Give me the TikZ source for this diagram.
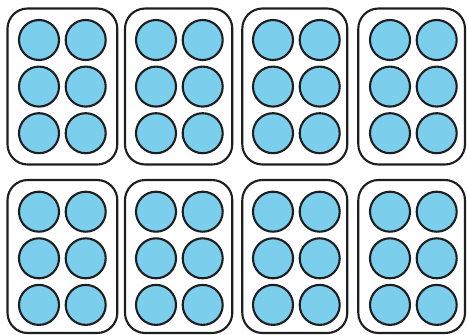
\documentclass[tikz,border=0pt]{standalone}
\definecolor{dotblue}{RGB}{124,206,237}
\definecolor{ink}{RGB}{30,30,30}
\begin{document}
\begin{tikzpicture}[x=0.02cm,y=-0.02cm,
  tray/.style={draw=ink,line width=1.2pt,rounded corners=11.5pt,fill=white},
  dot/.style={draw=ink,line width=1.2pt,fill=dotblue,circle,minimum size=40*0.02cm,inner sep=0pt}]
\useasboundingbox (0,0) rectangle (467,335);
\foreach \r/\top/\bot/\yc in {0/8.5/164.5/40, 1/180/333/211.7}{
  \foreach \c/\lft/\rgt in {0/7.5/117.3,1/125/232.3,2/242.3/347.3,3/358.3/465}{
    \draw[tray] (\lft,\top) rectangle (\rgt,\bot);
    \foreach \i/\dx in {0/39,1/85.7}{
      \foreach \j in {0,1,2}{
        \node[dot] (d-\r-\c-\i-\j) at ({\dx+117*\c},{\yc+46.6*\j}) {};
      }
    }
  }
}
\end{tikzpicture}
\end{document}
